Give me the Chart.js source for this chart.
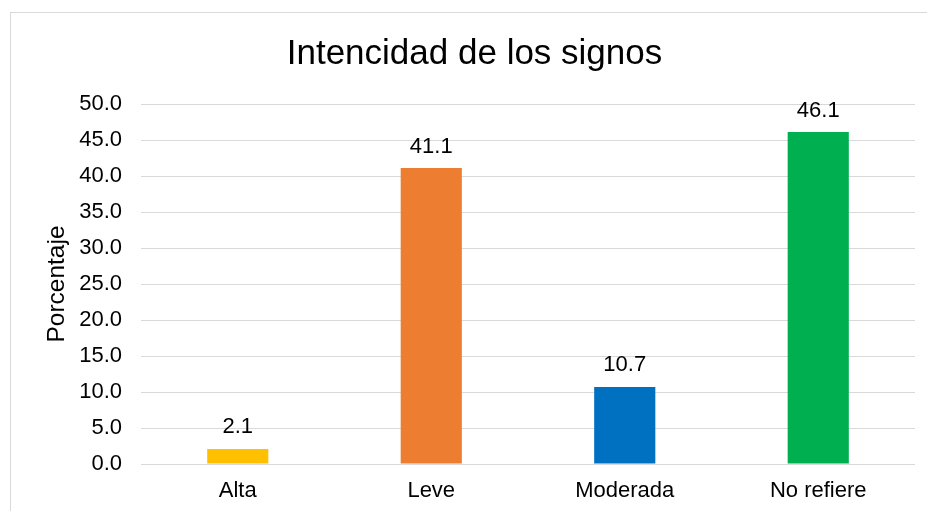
<!DOCTYPE html>
<html>
<head>
<meta charset="utf-8">
<script src="https://cdn.jsdelivr.net/npm/chart.js@4"></script>
<style>
  html, body { margin: 0; padding: 0; background: #fff; overflow: hidden; width: 927px; height: 511px; }
  #box { position: absolute; left: 10px; top: 12px; width: 929px; height: 510px; border: 1px solid #d9d9d9; }
  canvas { display: block; }
</style>
</head>
<body>
<div id="box"><canvas id="c" width="929" height="500"></canvas></div>
<script>
const categories = ["Alta", "Leve", "Moderada", "No refiere"];
const values = [2.1, 41.1, 10.7, 46.1];
const barColors = ["#FFC000", "#ED7D31", "#0070C0", "#00B050"];
const titleText = "Intencidad de los signos";
const yAxisTitle = "Porcentaje";

const FONT = "'Liberation Sans', Arial, sans-serif";

const valueLabels = {
  id: 'valueLabels',
  afterDatasetsDraw(chart) {
    const ctx = chart.ctx;
    const meta = chart.getDatasetMeta(0);
    ctx.save();
    ctx.font = "22px " + FONT;
    ctx.fillStyle = "#000";
    ctx.textAlign = "center";
    ctx.textBaseline = "alphabetic";
    meta.data.forEach((bar, i) => {
      const v = chart.data.datasets[0].data[i];
      ctx.fillText(v.toFixed(1), bar.x, bar.y - 15.5);
    });
    ctx.restore();
  }
};

new Chart(document.getElementById('c'), {
  type: 'bar',
  data: {
    labels: categories,
    datasets: [{
      data: values,
      backgroundColor: barColors,
      borderWidth: 0,
      categoryPercentage: 1,
      barPercentage: 0.316
    }]
  },
  options: {
    responsive: false,
    animation: false,
    layout: { padding: { left: 23, right: 25, top: 0, bottom: 0 } },
    plugins: {
      legend: { display: false },
      tooltip: { enabled: false },
      title: {
        display: true,
        text: titleText,
        color: "#000",
        font: { family: FONT, size: 35, weight: 'normal' },
        padding: { top: 20, bottom: 29 }
      }
    },
    scales: {
      x: {
        grid: { display: false, drawTicks: false },
        border: { display: false },
        ticks: { color: "#000", font: { family: FONT, size: 22 }, padding: 14, maxRotation: 0 },
        afterFit(scale) { scale.height = 49; }
      },
      y: {
        min: 0,
        max: 50,
        grid: { color: "#d9d9d9", lineWidth: 1, drawTicks: false },
        border: { display: false },
        ticks: {
          stepSize: 5,
          color: "#000",
          font: { family: FONT, size: 22 },
          padding: 19,
          callback: (v) => Number(v).toFixed(1)
        },
        title: {
          display: true,
          text: yAxisTitle,
          color: "#000",
          font: { family: FONT, size: 24.5 },
          padding: { top: 8.5, bottom: 0 }
        },
        afterFit(scale) { scale.width = 107; }
      }
    }
  },
  plugins: [valueLabels]
});
</script>
</body>
</html>
